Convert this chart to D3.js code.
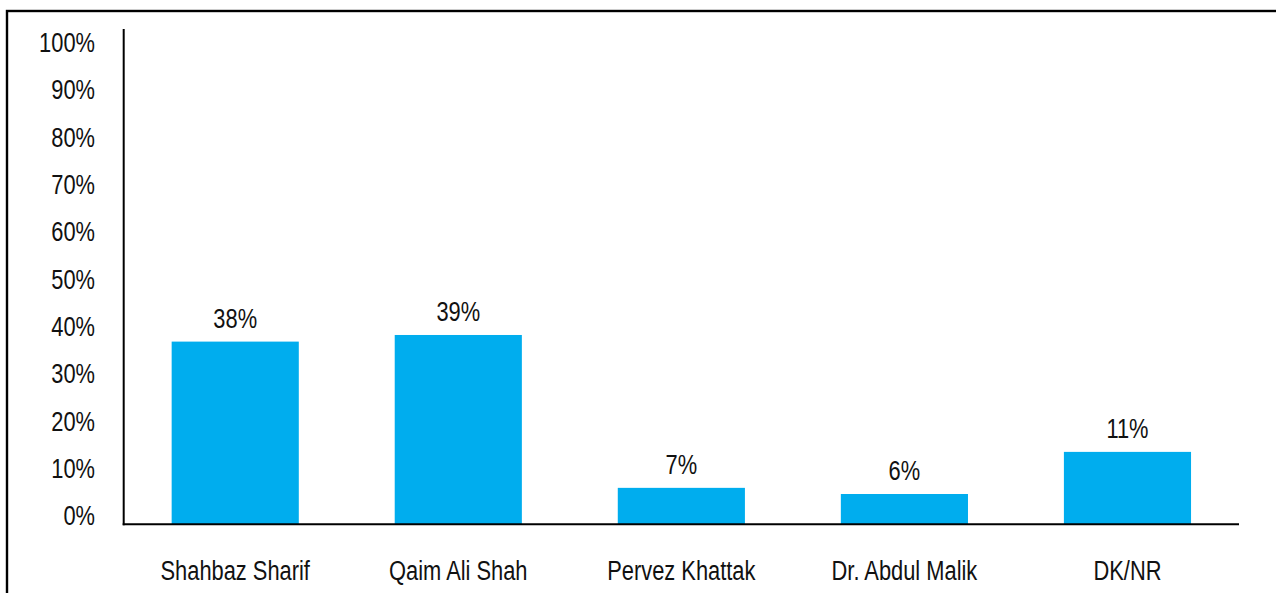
<!DOCTYPE html>
<html>
<head>
<meta charset="utf-8">
<script src="https://cdn.jsdelivr.net/npm/d3@7"></script>
<style>
  html, body { margin: 0; padding: 0; background: #fff; }
  svg { display: block; }
  text { font-family: "Liberation Sans", Arial, sans-serif; fill: #111; }
</style>
</head>
<body>
<script>
// ---- data ----
const categories = ["Shahbaz Sharif", "Qaim Ali Shah", "Pervez Khattak", "Dr. Abdul Malik", "DK/NR"];
const values = [38.6, 40.0, 7.7, 6.4, 15.3];          // bar heights (%)
const valueLabels = ["38%", "39%", "7%", "6%", "11%"]; // printed labels
const yTicks = [0, 10, 20, 30, 40, 50, 60, 70, 80, 90, 100];

// ---- layout ----
const W = 1276, H = 593;
const SX = 0.81; // horizontal condensing of the text
const FONT = 27;
const svg = d3.select("body").append("svg").attr("width", W).attr("height", H);

// frame
svg.append("rect")
  .attr("x", 7).attr("y", 11).attr("width", W + 20).attr("height", H + 20)
  .attr("fill", "none").attr("stroke", "#000").attr("stroke-width", 2.4);

const x0 = 123.7, x1 = 1239, yBase = 524.3, yTopAxis = 29;

const x = d3.scaleBand().domain(categories).range([x0, x1])
  .paddingInner(0.43).paddingOuter(0.215);
const y = d3.scaleLinear().domain([0, 100]).range([yBase, 51]);

// bars
svg.append("g").selectAll("rect").data(values).join("rect")
  .attr("x", (d, i) => x(categories[i]))
  .attr("width", x.bandwidth())
  .attr("y", d => y(d))
  .attr("height", d => y(0) - y(d))
  .attr("fill", "#00ADEE");

// value labels
svg.append("g").selectAll("text").data(values).join("text")
  .attr("transform", (d, i) =>
    `translate(${x(categories[i]) + x.bandwidth() / 2},${y(d) - 14}) scale(${SX},1)`)
  .attr("text-anchor", "middle")
  .attr("font-size", FONT)
  .text((d, i) => valueLabels[i]);

// y axis
const yAxis = d3.axisLeft(y).tickValues(yTicks).tickSize(0).tickPadding(0)
  .tickFormat(d => d + "%");
const gy = svg.append("g").attr("transform", `translate(${x0},0)`).call(yAxis);
gy.select(".domain").remove();
gy.selectAll("text")
  .attr("x", (95 - x0) / SX).attr("dy", "0.02em")
  .attr("transform", `scale(${SX},1)`)
  .attr("font-size", FONT).attr("fill", "#111")
  .style("font-family", '"Liberation Sans", Arial, sans-serif');

// x axis (labels)
const xAxis = d3.axisBottom(x).tickSize(0).tickPadding(0);
const gx = svg.append("g").attr("transform", `translate(0,${yBase})`).call(xAxis);
gx.select(".domain").remove();
gx.selectAll("text")
  .attr("y", 580 - yBase).attr("dy", 0)
  .attr("transform", `scale(${SX},1)`)
  .attr("font-size", FONT).attr("fill", "#111")
  .style("font-family", '"Liberation Sans", Arial, sans-serif');

// axis lines
svg.append("line")
  .attr("x1", x0).attr("x2", x0).attr("y1", yTopAxis).attr("y2", yBase + 1)
  .attr("stroke", "#000").attr("stroke-width", 2);
svg.append("line")
  .attr("x1", x0 - 1).attr("x2", x1).attr("y1", yBase).attr("y2", yBase)
  .attr("stroke", "#000").attr("stroke-width", 2);
</script>
</body>
</html>
